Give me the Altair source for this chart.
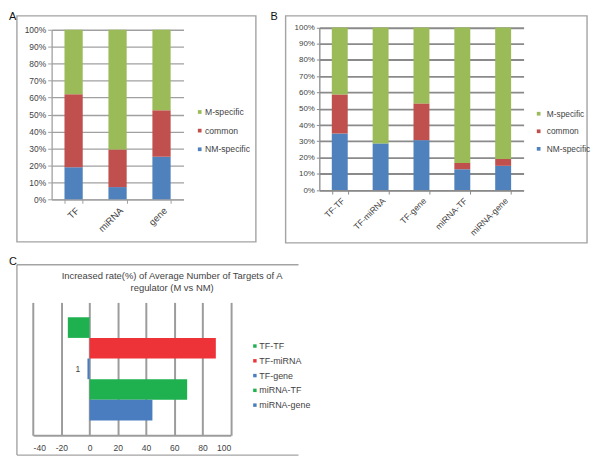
import altair as alt
import pandas as pd

FONT = "Liberation Sans"
TEXT = "#3f3f3f"

# ---------------- data ----------------
a_categories = ["TF", "miRNA", "gene"]
a_nm_specific = [18.9, 7.2, 25.1]
a_common = [43.1, 22.2, 27.4]
a_m_specific = [38.0, 70.6, 47.5]

b_categories = ["TF-TF", "TF-miRNA", "TF-gene", "miRNA-TF", "miRNA-gene"]
b_nm_specific = [34.8, 28.7, 30.7, 12.8, 14.9]
b_common = [24.0, 0.0, 22.6, 3.9, 4.2]
b_m_specific = [41.2, 71.3, 46.7, 83.3, 80.9]

stack_series = ["M-specific", "common", "NM-specific"]
stack_colors = ["#9BBB59", "#C0504D", "#4F81BD"]
pct_ticks = [0, 0.1, 0.2, 0.3, 0.4, 0.5, 0.6, 0.7, 0.8, 0.9, 1.0]

c_title = ["Increased rate(%) of Average Number of Targets of A", "regulator (M vs NM)"]
c_category = "1"
c_series = ["TF-TF", "TF-miRNA", "TF-gene", "miRNA-TF", "miRNA-gene"]
c_values = [-15.4, 89.4, -1.5, 69.1, 44.5]
c_colors = ["#1FB04F", "#ED3338", "#4A7DBF", "#1FB04F", "#4A7DBF"]
c_ticks = [-40, -20, 0, 20, 40, 60, 80, 100]


def long_table(categories, nm, common, m):
    rows = []
    for i, cat in enumerate(categories):
        rows.append({"category": cat, "series": "NM-specific", "value": nm[i], "rank": 0})
        rows.append({"category": cat, "series": "common", "value": common[i], "rank": 1})
        rows.append({"category": cat, "series": "M-specific", "value": m[i], "rank": 2})
    return pd.DataFrame(rows)


def frame_rect(box, color="#a3a3a3"):
    x0, x1, y0, y1 = box
    return alt.Chart(pd.DataFrame({"k": [0]})).mark_rect(
        filled=False, stroke=color, strokeWidth=1.4
    ).encode(x=alt.value(x0), x2=alt.value(x1), y=alt.value(y0), y2=alt.value(y1))


def panel_tag(letter, pos):
    return alt.Chart(pd.DataFrame({"t": [letter]})).mark_text(
        align="left", baseline="alphabetic", font=FONT, fontSize=11, color="#111111"
    ).encode(x=alt.value(pos[0]), y=alt.value(pos[1]), text="t:N")


def stacked_panel(table, categories, letter, w, h, y_range, band_pad, box, tag_pos,
                  legend_pos, legend_gap, legend_row, grid_color, grid_width,
                  axis_fs, label_fs, legend_fs, ytick):
    bars = alt.Chart(table).mark_bar().encode(
        x=alt.X("category:N", sort=categories, title=None,
                scale=alt.Scale(paddingInner=band_pad, paddingOuter=band_pad / 2),
                axis=alt.Axis(labelAngle=-45, labelAlign="right", labelBaseline="top",
                              tickBand="extent", tickSize=4, tickColor=grid_color,
                              domainColor=grid_color, domainWidth=1.3, grid=False,
                              labelFontSize=label_fs, labelPadding=2, labelColor=TEXT,
                              labelFont=FONT)),
        y=alt.Y("value:Q", stack="normalize", title=None,
                scale=alt.Scale(domain=[0, 1], nice=False, range=y_range),
                axis=alt.Axis(values=pct_ticks, format=".0%", grid=True,
                              gridColor=grid_color, gridWidth=grid_width,
                              domainColor=grid_color, domainWidth=1.3,
                              tickColor=grid_color, tickSize=ytick, labelPadding=2,
                              labelFontSize=axis_fs, labelColor=TEXT, labelFont=FONT)),
        color=alt.Color("series:N",
                        scale=alt.Scale(domain=stack_series, range=stack_colors),
                        legend=alt.Legend(title=None, orient="none",
                                          legendX=legend_pos[0], legendY=legend_pos[1],
                                          symbolType="square", symbolSize=14,
                                          symbolStrokeWidth=0, labelFontSize=legend_fs,
                                          labelFont=FONT, labelColor=TEXT,
                                          labelOffset=legend_gap, rowPadding=legend_row,
                                          padding=0)),
        order=alt.Order("rank:Q"),
    )
    return alt.layer(frame_rect(box), bars, panel_tag(letter, tag_pos)).properties(
        width=w, height=h)


panel_a = stacked_panel(
    long_table(a_categories, a_nm_specific, a_common, a_m_specific), a_categories, "A",
    w=133, h=171, y_range=[171, 0], band_pad=0.585, box=(-35, 206, -14, 214),
    tag_pos=(-43, -10.3), legend_pos=(145, 78.6), legend_gap=1, legend_row=8.8,
    grid_color="#a0a0a0", grid_width=1.3, axis_fs=8.5, label_fs=9.5, legend_fs=8.7,
    ytick=4)

panel_b = stacked_panel(
    long_table(b_categories, b_nm_specific, b_common, b_m_specific), b_categories, "B",
    w=206, h=161.7, y_range=[161.7, -2.3], band_pad=0.61, box=(-34, 270, -14, 215),
    tag_pos=(-49.3, -10.3), legend_pos=(217, 80.5), legend_gap=4, legend_row=8.7,
    grid_color="#8a8a8a", grid_width=1.8, axis_fs=8, label_fs=8.7, legend_fs=8.4,
    ytick=3)

# ---------------- panel C ----------------
c_table = pd.DataFrame({"category": [c_category] * len(c_series),
                        "series": c_series, "value": c_values})

c_bars = alt.Chart(c_table).mark_bar().encode(
    x=alt.X("value:Q", title=None,
            scale=alt.Scale(domain=[-40, 100], nice=False, zero=False,
                            range=[-18.7, 180.7]),
            axis=alt.Axis(values=c_ticks, grid=True, gridColor="#9c9c9c", gridWidth=2,
                          domainColor="#9c9c9c", domainWidth=2, ticks=False,
                          labelExpr="datum.value < 0 ? '-' + abs(datum.value) : '' + datum.value",
                          labelPadding=8, labelFontSize=8.6, labelColor=TEXT,
                          labelFont=FONT)),
    y=alt.Y("category:N", title=None,
            scale=alt.Scale(paddingInner=0, paddingOuter=0.144),
            axis=alt.Axis(offset=-38.3, domain=False, ticks=False, grid=False,
                          labelPadding=10, labelFontSize=8.6, labelColor=TEXT,
                          labelFont=FONT)),
    yOffset=alt.YOffset("series:N", sort=c_series,
                        scale=alt.Scale(paddingInner=0, paddingOuter=0)),
    color=alt.Color("series:N", sort=c_series,
                    scale=alt.Scale(domain=c_series, range=c_colors),
                    legend=alt.Legend(title=None, orient="none", legendX=200.5,
                                      legendY=39.5, symbolType="square", symbolSize=12,
                                      symbolStrokeWidth=0, labelFontSize=9,
                                      labelFont=FONT, labelColor=TEXT, labelOffset=0,
                                      rowPadding=4.9, padding=0)),
)

c_edge = "#a3a3a3"
rule_src = pd.DataFrame({"k": [0]})
c_top = alt.Chart(rule_src).mark_rule(color=c_edge, strokeWidth=1.4).encode(
    x=alt.value(-35), x2=alt.value(249), y=alt.value(-38))
c_left = alt.Chart(rule_src).mark_rule(color=c_edge, strokeWidth=1.4).encode(
    x=alt.value(-35), y=alt.value(-38), y2=alt.value(154))
c_bottom = alt.Chart(rule_src).mark_rule(color=c_edge, strokeWidth=1.4).encode(
    x=alt.value(-35), x2=alt.value(249), y=alt.value(154))

panel_c = alt.layer(c_top, c_left, c_bottom, c_bars, panel_tag("C", (-43, -37.5))).properties(
    width=181, height=134,
    title=alt.Title(c_title, anchor="middle", dx=31, offset=-36, fontSize=9.5,
                    fontWeight="normal", color=TEXT, font=FONT, lineHeight=11.3),
)

chart = alt.concat(
    panel_a, panel_b, panel_c, columns=2, align="each", bounds="flush",
    spacing={"row": 104, "column": 89},
).resolve_scale(color="independent").resolve_legend(color="independent").properties(
    padding=0, background="white").configure_view(stroke="transparent")

chart.save("out.html", embed_options={"renderer": "svg", "actions": False})
